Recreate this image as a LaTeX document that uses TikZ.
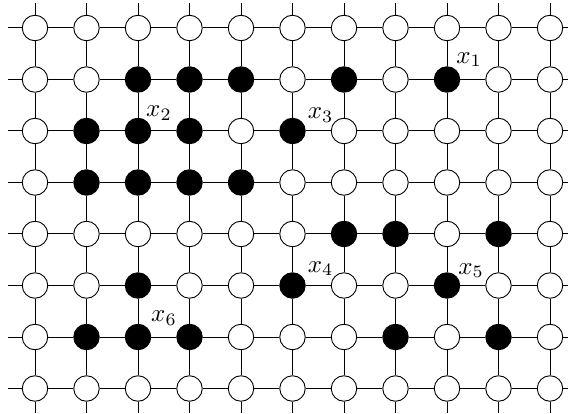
\documentclass[tikz,border=0pt]{standalone}
\usepackage{graphicx}
\usetikzlibrary{calc}
\begin{document}
\begin{tikzpicture}[x=1pt,y=-1pt,
  site/.style={circle,draw=black,fill=white,line width=0.9pt,minimum size=25.5pt,inner sep=0pt},
  bond/.style={line width=1pt},
  lab/.style={inner sep=0pt},
  occ 2-1/.style={fill=black}, occ 3-1/.style={fill=black}, occ 4-1/.style={fill=black},
  occ 6-1/.style={fill=black}, occ 8-1/.style={fill=black},
  occ 1-2/.style={fill=black}, occ 2-2/.style={fill=black}, occ 3-2/.style={fill=black},
  occ 5-2/.style={fill=black},
  occ 1-3/.style={fill=black}, occ 2-3/.style={fill=black}, occ 3-3/.style={fill=black},
  occ 4-3/.style={fill=black},
  occ 6-4/.style={fill=black}, occ 7-4/.style={fill=black}, occ 9-4/.style={fill=black},
  occ 2-5/.style={fill=black}, occ 5-5/.style={fill=black}, occ 8-5/.style={fill=black},
  occ 1-6/.style={fill=black}, occ 2-6/.style={fill=black}, occ 3-6/.style={fill=black},
  occ 7-6/.style={fill=black}, occ 9-6/.style={fill=black}]
\useasboundingbox (0,0) rectangle (568,414);
% sites
\foreach \i in {0,...,10}
  \foreach \j in {0,...,7}
    \node[site, occ \i-\j/.try] (n-\i-\j) at ({35+51.5*\i},{28+51.5*\j}) {};
% horizontal bonds
\foreach \i [count=\k from 1] in {0,...,9}
  \foreach \j in {0,...,7}
    \draw[bond] (n-\i-\j) -- (n-\k-\j);
% vertical bonds
\foreach \j [count=\k from 1] in {0,...,6}
  \foreach \i in {0,...,10}
    \draw[bond] (n-\i-\j) -- (n-\i-\k);
% stubs
\foreach \j in {0,...,7} {
  \draw[bond] (n-0-\j.west) -- ++(-14,0);
  \draw[bond] (n-10-\j.east) -- ++(20,0);
}
\foreach \i in {0,...,10} {
  \draw[bond] (n-\i-0.north) -- ++(0,-12);
  \draw[bond] (n-\i-7.south) -- ++(0,11);
}
% labels
\node[lab] (l1) at ($(n-8-1)+(22,-20)$) {\scalebox{2.5}{$x_1$}};
\node[lab] (l2) at ($(n-2-2)+(21,-18)$) {\scalebox{2.5}{$x_2$}};
\node[lab] (l3) at ($(n-5-2)+(28,-16)$) {\scalebox{2.5}{$x_3$}};
\node[lab] (l4) at ($(n-5-5)+(28,-17)$) {\scalebox{2.5}{$x_4$}};
\node[lab] (l5) at ($(n-8-5)+(24,-15)$) {\scalebox{2.5}{$x_5$}};
\node[lab] (l6) at ($(n-2-6)+(26,-19)$) {\scalebox{2.5}{$x_6$}};
\end{tikzpicture}
\end{document}
